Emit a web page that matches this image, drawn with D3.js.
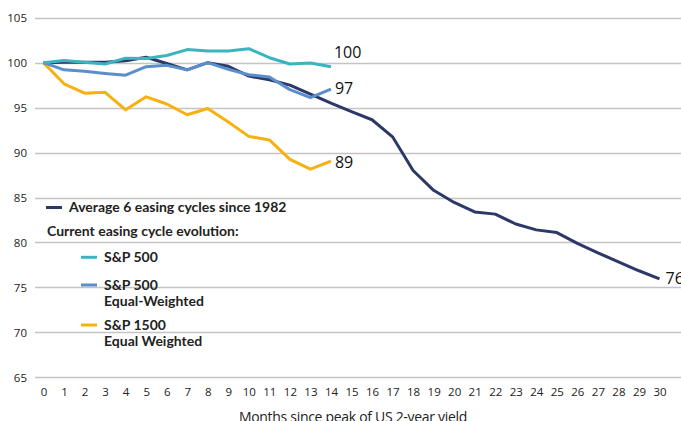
<!DOCTYPE html>
<html><head><meta charset="utf-8">
<script src="https://cdn.jsdelivr.net/npm/d3@7"></script>
<style>body{margin:0;background:#fff}svg{display:block}</style>
</head><body>
<script>
const months = d3.range(0, 31);
const yTicks = [65, 70, 75, 80, 85, 90, 95, 100, 105];
const avgCycles = [100, 100.05, 100.05, 100.05, 100.2, 100.6, 99.9, 99.2, 100, 99.6, 98.5, 98.1, 97.5, 96.5, 95.5, 94.55, 93.65, 91.75, 88.0, 85.8, 84.45, 83.4, 83.15, 82.05, 81.4, 81.1, 79.9, 78.85, 77.85, 76.85, 75.95];
const sp500 = [100, 100.25, 100.05, 99.85, 100.5, 100.45, 100.8, 101.45, 101.3, 101.3, 101.55, 100.55, 99.85, 99.95, 99.55];
const sp500EW = [100, 99.2, 99.05, 98.8, 98.6, 99.55, 99.7, 99.2, 100, 99.25, 98.65, 98.4, 97.0, 96.1, 97.05];
const sp1500EW = [100, 97.65, 96.6, 96.7, 94.75, 96.2, 95.4, 94.2, 94.9, 93.4, 91.8, 91.4, 89.25, 88.15, 89.05];
const endLabels = ["76", "100", "97", "89"];
const seriesNames = ["Average 6 easing cycles since 1982", "S&P 500", "S&P 500\nEqual-Weighted", "S&P 1500\nEqual Weighted"];
const colors = ["#2c3968", "#3ab5c0", "#5a8fcb", "#f7b10f"];
const xTitle = "Months since peak of US 2-year yield";
const legendHeader = "Current easing cycle evolution:";

const W = 681, H = 421;
const svg = d3.select("body").append("svg").attr("width", W).attr("height", H);
const x = d3.scaleLinear().domain([0, 30]).range([43.5, 659.5]);
const y = d3.scaleLinear().domain([65, 105]).range([377.3, 17.7]);

// gridlines
svg.append("g").selectAll("line").data(yTicks).join("line")
  .attr("x1", 35).attr("x2", W).attr("y1", d => Math.round(y(d)) + 0.5).attr("y2", d => Math.round(y(d)) + 0.5)
  .attr("stroke", "#c4c4c4").attr("stroke-width", 1.3);

// y axis labels
const yAxis = d3.axisLeft(y).tickValues(yTicks).tickSize(0).tickPadding(0);
const gy = svg.append("g").attr("transform", "translate(27,0)").call(yAxis);
gy.select(".domain").remove();
gy.selectAll("text").attr("font-family", "Open Sans").attr("font-size", 11.5).attr("fill", "#222").attr("dy", "0.35em");

// x axis labels
const xAxis = d3.axisBottom(x).tickValues(months).tickSize(0).tickPadding(0);
const gx = svg.append("g").attr("transform", "translate(0,392)").call(xAxis);
gx.select(".domain").remove();
gx.selectAll("text").attr("font-family", "Open Sans").attr("font-size", 11.5).attr("fill", "#222").attr("dy", "0.35em");

svg.append("text").attr("x", 353).attr("y", 421.5).attr("text-anchor", "middle")
  .attr("font-family", "Open Sans").attr("font-size", 14).attr("letter-spacing", -0.3).attr("fill", "#222").text(xTitle);

const line = d3.line().x((d, i) => x(i)).y(d => y(d));
const allSeries = [avgCycles, sp500, sp500EW, sp1500EW];
const drawOrder = [3, 0, 2, 1];
drawOrder.forEach(k => {
  svg.append("path").datum(allSeries[k]).attr("d", line)
    .attr("fill", "none").attr("stroke", colors[k]).attr("stroke-width", 3)
    .attr("stroke-linejoin", "round");
});

// end labels
const labelOffsets = [[6, 0], [3, -14.5], [4, -0.5], [4, 1]];
allSeries.forEach((s, k) => {
  const n = s.length - 1;
  svg.append("text").attr("x", x(n) + labelOffsets[k][0]).attr("y", y(s[n]) + labelOffsets[k][1])
    .attr("dy", "0.35em").attr("font-family", "Open Sans").attr("font-size", 16).attr("fill", "#111")
    .text(endLabels[k]);
});

// legend
const lg = svg.append("g").attr("font-family", "Lato").attr("font-weight", 700).attr("font-size", 14).attr("fill", "#222");
function legendItem(k, sx, sy) {
  lg.append("line").attr("x1", sx).attr("x2", sx + 16).attr("y1", sy).attr("y2", sy)
    .attr("stroke", colors[k]).attr("stroke-width", 3);
  const lines = seriesNames[k].split("\n");
  lines.forEach((t, i) => {
    lg.append("text").attr("x", sx + 23).attr("y", sy + i * 16.5).attr("dy", "0.35em").text(t);
  });
}
legendItem(0, 46, 207.5);
lg.append("text").attr("x", 47).attr("y", 231.5).attr("dy", "0.35em").text(legendHeader);
legendItem(1, 81, 257.3);
legendItem(2, 81, 285);
legendItem(3, 81, 325);
</script>
</body></html>
